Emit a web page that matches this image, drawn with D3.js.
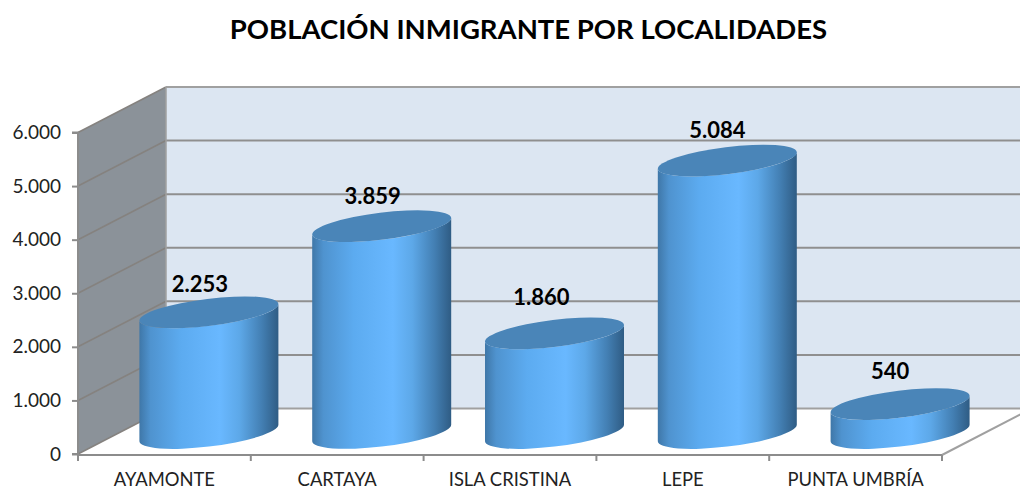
<!DOCTYPE html>
<html><head><meta charset="utf-8">
<script src="https://cdn.jsdelivr.net/npm/d3@7"></script>
<style>html,body{margin:0;background:#fff}svg{display:block}text{font-family:Lato,"Open Sans",sans-serif}</style>
</head><body><svg id="c" width="1020" height="491"></svg>
<script>
const titleText = "POBLACIÓN INMIGRANTE POR LOCALIDADES";
const categories = ["AYAMONTE","CARTAYA","ISLA CRISTINA","LEPE","PUNTA UMBRÍA"];
const values = [2253,3859,1860,5084,540];
const valueLabels = ["2.253","3.859","1.860","5.084","540"];
const yTicks = [0,1000,2000,3000,4000,5000,6000];
const yTickLabels = ["0","1.000","2.000","3.000","4.000","5.000","6.000"];

const svg = d3.select("#c");
const x = d3.scaleBand().domain(categories).range([78,942]);
const y = d3.scaleLinear().domain([0,6000]).range([454,132.5]);
const depth = {dx:88, dy:-45.5};
const axisCol = "#8c8c8c";

const defs = svg.append("defs");
const g = defs.append("linearGradient").attr("id","cyl").attr("x1",0).attr("x2",1).attr("y1",0).attr("y2",0);
[[0,"#3f77a8"],[0.08,"#4f93cf"],[0.3,"#5cabf0"],[0.58,"#69b8ff"],[0.72,"#5da8e8"],[0.88,"#437fb3"],[1,"#2f5c84"]]
  .forEach(d=>g.append("stop").attr("offset",d[0]).attr("stop-color",d[1]));

svg.append("text").attr("x",528.5).attr("y",39).attr("text-anchor","middle")
  .attr("font-size",27.5).attr("font-weight",700).attr("fill","#000").text(titleText);

const x0=x.range()[0], x1=x.range()[1];
svg.append("rect").attr("x",x0+depth.dx).attr("y",y(6000)+depth.dy)
  .attr("width",1020-x0-depth.dx).attr("height",y(0)-y(6000)).attr("fill","#dce6f2");
svg.append("path").attr("fill","#8b9299")
  .attr("d",d3.line()([[x0,y(0)],[x0,y(6000)],[x0+depth.dx,y(6000)+depth.dy],[x0+depth.dx,y(0)+depth.dy]]));

yTicks.forEach(v=>{
  svg.append("path").attr("fill","none").attr("stroke",v===0||v===6000?"#a0a0a0":"#8f8f8f").attr("stroke-width",2)
    .attr("d",d3.line()([[1020,y(v)+depth.dy],[x0+depth.dx,y(v)+depth.dy]]));
  svg.append("path").attr("fill","none").attr("stroke","#85827f").attr("stroke-width",1.6)
    .attr("d",d3.line()([[x0+depth.dx,y(v)+depth.dy],[x0,y(v)]]));
});
svg.append("line").attr("x1",x0+depth.dx).attr("x2",x0+depth.dx).attr("y1",y(6000)+depth.dy).attr("y2",y(0)+depth.dy).attr("stroke","#a0a0a0").attr("stroke-width",1.5);

svg.append("path").attr("fill","none").attr("stroke","#a0a0a0").attr("stroke-width",2)
  .attr("d",d3.line()([[x1,y(0)+1],[x1+depth.dx,y(0)+1+depth.dy]]));

const yAxis = d3.axisLeft(y).tickValues(yTicks).tickFormat((d,i)=>yTickLabels[i]).tickSize(6).tickPadding(11);
const ya = svg.append("g").attr("transform",`translate(${x0},0)`).call(yAxis);
ya.select(".domain").attr("stroke",axisCol).attr("stroke-width",2).attr("d",`M-6,${y(6000)}H0V${y(0)}H-6`);
ya.selectAll(".tick line").attr("stroke",axisCol).attr("stroke-width",2);
ya.selectAll(".tick text").attr("font-size",19).attr("fill","#222").attr("font-family","Lato");

const xAxis = d3.axisBottom(x).tickSize(0).tickPadding(18);
const xa = svg.append("g").attr("transform",`translate(0,${y(0)+1})`).call(xAxis);
xa.select(".domain").attr("stroke",axisCol).attr("stroke-width",2).attr("d",`M${x0},0H${x1}`);
xa.selectAll(".tick text").attr("font-size",18.4).attr("fill","#222").attr("font-family","Lato");
const edges = [0,1,2,3,4].map(i=>x(categories[i])).concat([x1]);
xa.selectAll("line.e").data(edges).join("line").attr("class","e")
  .attr("x1",d=>d).attr("x2",d=>d).attr("y1",0).attr("y2",6).attr("stroke",axisCol).attr("stroke-width",2);

const rx=70, ry=13.5, tilt=-7*Math.PI/180;
const t = Math.atan2(-ry*Math.sin(tilt), rx*Math.cos(tilt));
const ex = rx*Math.cos(t)*Math.cos(tilt)-ry*Math.sin(t)*Math.sin(tilt);
const ey = rx*Math.cos(t)*Math.sin(tilt)+ry*Math.sin(t)*Math.cos(tilt);
const baseDrop = 21, cxOff = 44.5;
const labelNudge = [[-9,-20],[-9,-22],[-13,-28],[-10,-23],[-10,-25]];
categories.forEach((c,i)=>{
  const cx = x(c)+x.bandwidth()/2+cxOff;
  const yb = y(0)-baseDrop;
  const yt = yb-(y(0)-y(values[i]));
  const deg=tilt*180/Math.PI;
  const gr = svg.append("g");
  gr.append("path").attr("fill","url(#cyl)")
    .attr("d",`M${cx-ex},${yt-ey}L${cx-ex},${yb-ey}A${rx},${ry} ${deg} 0 0 ${cx+ex},${yb+ey}L${cx+ex},${yt+ey}A${rx},${ry} ${deg} 0 1 ${cx-ex},${yt-ey}Z`);
  gr.append("ellipse").attr("rx",rx).attr("ry",ry).attr("fill","#4a85b8")
    .attr("transform",`translate(${cx},${yt}) rotate(${deg})`);
  svg.append("text").attr("x",cx+labelNudge[i][0]).attr("y",yt+labelNudge[i][1]).attr("text-anchor","middle")
    .attr("font-size",22).attr("font-weight",700).attr("fill","#000").text(valueLabels[i]);
});
</script></body></html>
